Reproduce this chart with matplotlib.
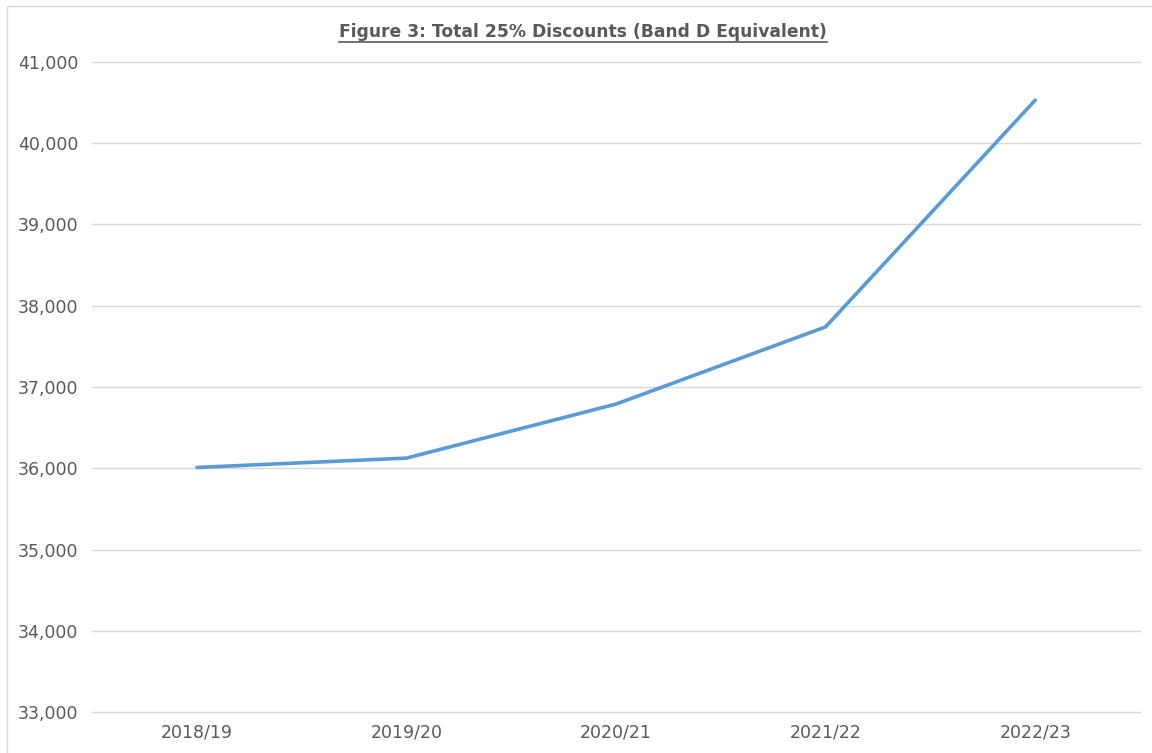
import matplotlib.pyplot as plt
from matplotlib.patches import Rectangle
from matplotlib.ticker import FuncFormatter

# Datos
years = ["2018/19", "2019/20", "2020/21", "2021/22", "2022/23"]
discounts = [36010, 36125, 36790, 37740, 40530]
y_ticks = [33000, 34000, 35000, 36000, 37000, 38000, 39000, 40000, 41000]

fig = plt.figure(figsize=(11.52, 7.53), dpi=100)
ax = fig.add_axes([0.0799, 0.0544, 0.9097, 0.8633])

# Borde del grafico
fig.patches.append(Rectangle((0.006, -0.05), 1.2, 1.042, transform=fig.transFigure,
                             fill=False, edgecolor="#d9d9d9", linewidth=1.0))

x = range(len(years))
ax.plot(x, discounts, color="#5b9bd5", linewidth=2.6, solid_capstyle="round",
        solid_joinstyle="round", zorder=3)

ax.set_xlim(-0.5, len(years) - 0.5)
ax.set_ylim(33000, 41000)
ax.set_yticks(y_ticks)
ax.yaxis.set_major_formatter(FuncFormatter(lambda v, p: f"{v:,.0f}"))
ax.set_xticks(list(x))
ax.set_xticklabels(years)

ax.grid(axis="y", color="#d9d9d9", linewidth=1.0)
for gl in ax.get_ygridlines():
    gl.set_clip_on(False)
ax.set_axisbelow(True)
for s in ax.spines.values():
    s.set_visible(False)
ax.tick_params(axis="both", length=0, labelsize=12.5, colors="#595959")
ax.tick_params(axis="y", pad=10)
ax.tick_params(axis="x", pad=8)

title = fig.text(0.506, 0.958, "Figure 3: Total 25% Discounts (Band D Equivalent)",
                 ha="center", va="center", fontsize=12.3, fontweight="bold", color="#595959")

# Subrayado del titulo segun su ancho real
fig.canvas.draw()
bb = title.get_window_extent().transformed(fig.transFigure.inverted())
fig.add_artist(plt.Line2D([bb.x0, bb.x1], [bb.y0 - 0.002, bb.y0 - 0.002],
                          color="#595959", linewidth=1.2))

fig.savefig("out.png", dpi=100)
